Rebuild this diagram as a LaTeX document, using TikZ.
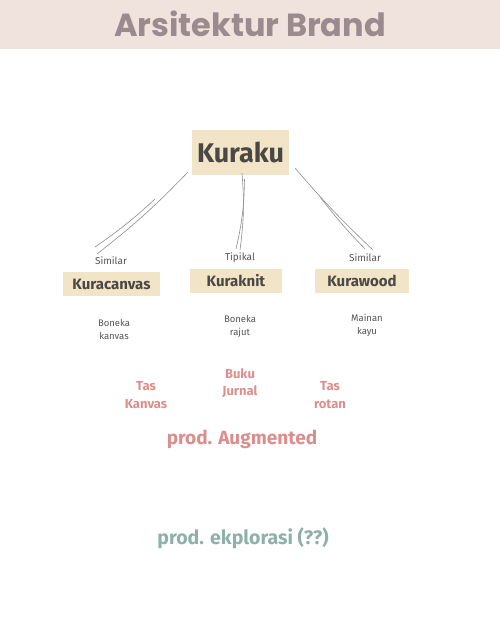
\documentclass[tikz,border=0pt]{standalone}
\usepackage{fontspec}
\setmainfont{Fira Sans}
\newfontfamily\judulfont{Poppins}
\usetikzlibrary{positioning,calc}
\definecolor{bandpink}{HTML}{F0E2DC}
\definecolor{judulgray}{HTML}{9B8B8E}
\definecolor{boxbeige}{HTML}{F2E4C6}
\definecolor{boxtext}{HTML}{4A4745}
\definecolor{linegray}{HTML}{8C8C8C}
\definecolor{labgray}{HTML}{555555}
\definecolor{augpink}{HTML}{DB8F8C}
\definecolor{eksteal}{HTML}{8DB0A7}
\tikzset{
  judul/.style={text=judulgray,font=\judulfont\bfseries\fontsize{32}{36}\selectfont},
  brandbox/.style={fill=boxbeige,text=boxtext,font=\bfseries\fontsize{15}{18}\selectfont,minimum height=24pt,inner sep=0pt},
  relasi/.style={text=labgray,font=\fontsize{10}{12}\selectfont,inner sep=1pt},
  produk/.style={text=labgray,font=\fontsize{9.5}{13}\selectfont,align=center,inner sep=1pt},
  augment/.style={text=augpink,font=\bfseries\fontsize{13}{17.5}\selectfont,align=center,inner sep=1pt},
  sketsa/.style={draw=linegray,line width=0.6pt}
}

\begin{document}
\begin{tikzpicture}[x=1pt,y=-1pt]
  \useasboundingbox (0,0) rectangle (500,625);
  \fill[bandpink] (0,0) rectangle (500,49);
  \node[judul] (judulnode) at (250,24) {Arsitektur Brand};

  \node[brandbox,minimum width=97pt,minimum height=45pt,font=\bfseries\fontsize{27}{30}\selectfont] (kuraku) at (240.5,152.5) {Kuraku};

  \node[relasi] (sim1) at (111,261) {Similar};
  \node[relasi] (tipikal) at (240,258) {Tipikal};
  \node[relasi] (sim2) at (365,258) {Similar};

  \node[brandbox,minimum width=97pt] (canvas) at (111.5,284) {Kuracanvas};
  \node[brandbox,minimum width=92pt] (knit) at (236,281) {Kuraknit};
  \node[brandbox,minimum width=94pt] (wood) at (362,281) {Kurawood};

  \node[produk] (bkanvas) at (114,329) {Boneka\\kanvas};
  \node[produk] (brajut) at (240,326) {Boneka\\rajut};
  \node[produk] (mkayu) at (367,325) {Mainan\\kayu};

  \node[augment] (taskanvas) at (146,395) {Tas\\Kanvas};
  \node[augment] (jurnal) at (240,383) {Buku\\Jurnal};
  \node[augment] (rotan) at (330,395) {Tas\\rotan};
  \node[augment,font=\bfseries\fontsize{19}{22}\selectfont] (augmented) at (242,439) {prod. Augmented};
  \node[augment,text=eksteal,font=\bfseries\fontsize{19.5}{22}\selectfont] (eksplorasi) at (243,538) {prod. ekplorasi (??)};

  % garis sketsa dobel
  \coordinate (l1) at (97,254);
  \coordinate (l2) at (95,247);
  \coordinate (m1) at (240,250);
  \coordinate (m2) at (236,249);
  \coordinate (r1) at (373,250);
  \coordinate (r2) at (365,249);
  \draw[sketsa] ($(kuraku.south west)+(-4,-3)$) to[bend left=4] (l1);
  \draw[sketsa] ($(kuraku.south west)+(-37,24)$) to[bend left=4] (l2);
  \draw[sketsa] ($(kuraku.south)+(1.5,-2)$) to[bend left=6] (m1);
  \draw[sketsa] ($(kuraku.south)+(4,4)$) to[bend left=6] (m2);
  \draw[sketsa] ($(kuraku.south east)+(6,-7)$) to[bend right=3] (r1);
  \draw[sketsa] ($(kuraku.south east)+(31,22)$) to[bend right=3] (r2);
\end{tikzpicture}
\end{document}
